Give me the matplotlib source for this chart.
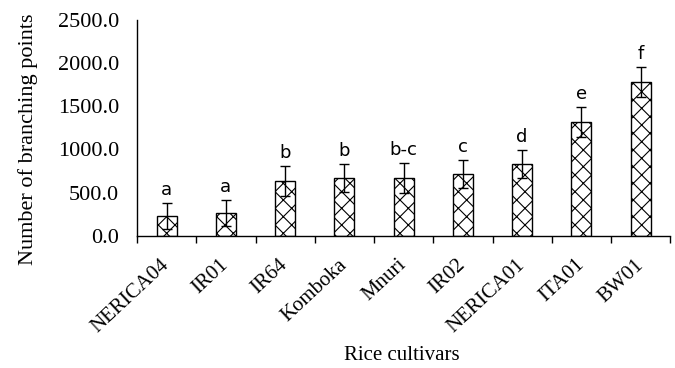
import matplotlib.pyplot as plt
import numpy as np

cultivars = ['NERICA04', 'IR01', 'IR64', 'Komboka', 'Mnuri', 'IR02',
             'NERICA01', 'ITA01', 'BW01']
branching = [231, 266, 637, 671, 671, 718, 833, 1319, 1782]
errors = [150, 150, 173, 162, 174, 161, 162, 174, 173]
letters = ['a', 'a', 'b', 'b', 'b-c', 'c', 'd', 'e', 'f']
yticks = [0, 500, 1000, 1500, 2000, 2500]

plt.rcParams['hatch.linewidth'] = 0.8

fig = plt.figure(figsize=(6.75, 3.68), dpi=100)
ax = fig.add_axes([0.203, 0.359, 0.790, 0.587])

x = np.arange(len(cultivars))
ax.bar(x, branching, width=0.34, color='white', edgecolor='black',
       linewidth=1.0, hatch='xx', zorder=2)
ax.errorbar(x, branching, yerr=errors, fmt='none', ecolor='black',
            elinewidth=1.0, capsize=3.6, capthick=1.0, zorder=3)

for xi, v, e, s in zip(x, branching, errors, letters):
    ax.text(xi, v + e + 45, s, ha='center', va='bottom', fontsize=13,
            family='DejaVu Sans')

ax.set_xlim(-0.5, len(cultivars) - 0.5)
ax.set_ylim(0, 2500)
ax.set_yticks(yticks)
ax.set_yticklabels([f'{t:.1f}' for t in yticks], family='Liberation Serif',
                   fontsize=16)
ax.tick_params(axis='y', length=0, pad=13)

# category labels centred, tick marks between categories
ax.set_xticks(x)
ax.set_xticklabels(cultivars, rotation=43, ha='right', va='center',
                   rotation_mode='anchor', family='Liberation Serif',
                   fontsize=15)
ax.tick_params(axis='x', which='major', length=0, pad=19)
ax.set_xticks(np.arange(len(cultivars) + 1) - 0.5, minor=True)
ax.tick_params(axis='x', which='minor', length=5, width=1.0, direction='out')

for side in ['top', 'right']:
    ax.spines[side].set_visible(False)
for side in ['left', 'bottom']:
    ax.spines[side].set_linewidth(1.0)

fig.text(402 / 675, 1 - 355 / 368, 'Rice cultivars', ha='center',
         va='center', family='Liberation Serif', fontsize=15)
ax.set_ylabel('Number of branching points', family='Liberation Serif',
              fontsize=16)
ax.yaxis.set_label_coords(-0.186, 0.449)

fig.savefig('out.png')
